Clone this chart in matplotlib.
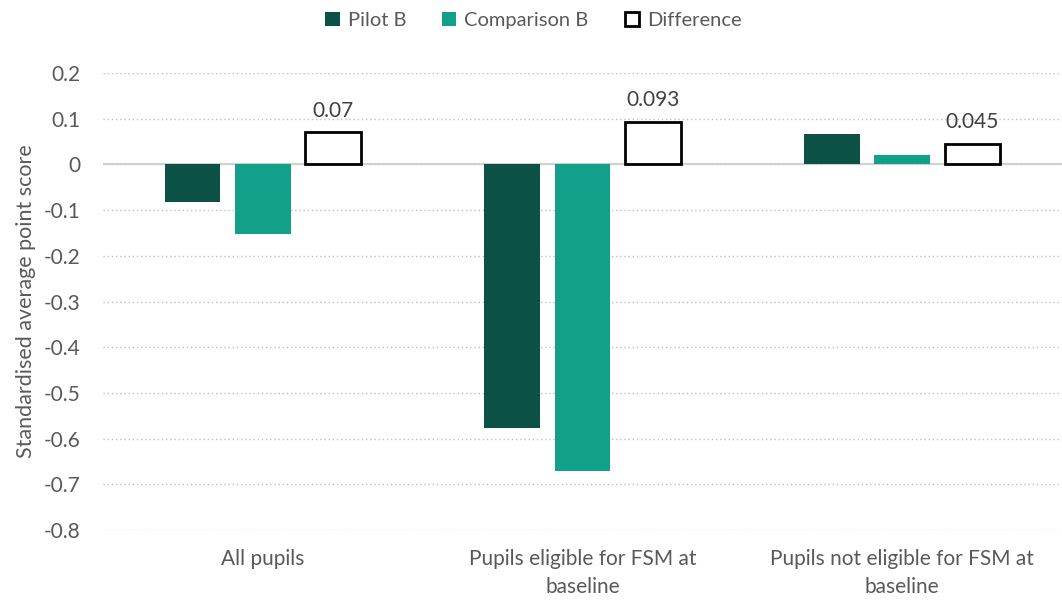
import matplotlib.pyplot as plt
import numpy as np

plt.rcParams['font.family'] = ['Lato', 'DejaVu Sans']

categories = ["All pupils", "Pupils eligible for FSM at\nbaseline", "Pupils not eligible for FSM at\nbaseline"]
pilot_b = [-0.082, -0.577, 0.066]
comparison_b = [-0.152, -0.670, 0.020]
difference = [0.07, 0.093, 0.045]
diff_labels = ["0.07", "0.093", "0.045"]

grey = '#595959'
fig = plt.figure(figsize=(10.62, 6.02), dpi=100)
ax = fig.add_axes([0.097, 0.1196, 0.903, 0.7591])

x = np.arange(len(categories))
w = 0.175
off = 0.22
ax.bar(x - off, pilot_b, w, color='#0B5245', label='Pilot B', zorder=3)
ax.bar(x, comparison_b, w, color='#13A08A', label='Comparison B', zorder=3)
ax.bar(x + off, difference, w, facecolor='white', edgecolor='black', linewidth=2,
       label='Difference', zorder=3)
for xi, v, t in zip(x + off, difference, diff_labels):
    ax.text(xi, v + 0.025, t, ha='center', va='bottom', fontsize=15, color='#404040')

ax.set_xlim(-0.5, 2.5)
ax.set_ylim(-0.8, 0.2)
ax.set_yticks(np.arange(-0.8, 0.21, 0.1))
ax.set_yticklabels(["-0.8", "-0.7", "-0.6", "-0.5", "-0.4", "-0.3", "-0.2", "-0.1", "0", "0.1", "0.2"])
ax.set_xticks(x)
ax.set_xticklabels(categories, linespacing=1.5)
ax.tick_params(axis='both', length=0, labelsize=15, colors=grey)
ax.tick_params(axis='y', pad=16)
ax.tick_params(axis='x', pad=14)
ax.yaxis.grid(True, linestyle=(0, (1, 2)), color='#bfbfbf', linewidth=1, zorder=0)
ax.axhline(0, color='#d0d0d0', linewidth=1.5, zorder=2)
for s in ax.spines.values():
    s.set_visible(False)
ax.set_ylabel("Standardised average point score", fontsize=15.5, color=grey, labelpad=6)

ax.legend(loc='center', bbox_to_anchor=(0.449, 1.115), ncol=3, frameon=False,
          fontsize=14.5, handlelength=0.7, handleheight=0.7, columnspacing=1.8,
          handletextpad=0.4, labelcolor=grey)

fig.savefig('out.png', dpi=100)
